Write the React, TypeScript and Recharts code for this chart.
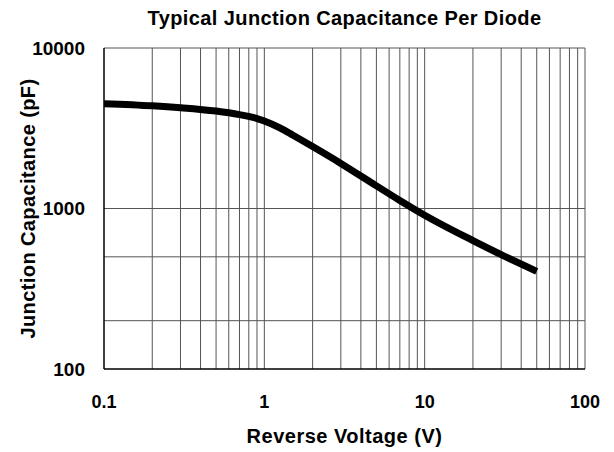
import React from 'react';
import {
  LineChart,
  Line,
  XAxis,
  YAxis,
  ReferenceLine,
  Label,
} from 'recharts';

// reverse voltage (V) and junction capacitance (pF)
const voltage = [0.1, 0.2, 0.3, 0.5, 0.7, 0.85, 1, 1.25, 1.5, 2, 3, 5, 7, 10, 20, 30, 50];
const capacitance = [4500, 4365, 4246, 4046, 3846, 3698, 3508, 3177, 2871, 2432, 1910, 1384, 1122, 908, 631, 516, 406];

const xTicks = [0.1, 1, 10, 100];
const yTicks = [100, 1000, 10000];
const xGrid = [0.2, 0.3, 0.4, 0.5, 0.6, 0.7, 0.8, 0.9, 1, 2, 3, 4, 5, 6, 7, 8, 9, 10, 20, 30, 40, 50, 60, 70, 80, 90, 100];
const yGrid = [200, 500, 1000, 10000];

const data = voltage.map((v, i) => ({ v, c: capacitance[i] }));

const FONT = '"Liberation Sans", Arial, sans-serif';

export default function App() {
  return (
    <div style={{ position: 'absolute', left: 0, top: 0, width: 614, height: 452, background: '#fff' }}>
      <div
        style={{
          position: 'absolute',
          top: 7,
          left: 104,
          width: 481,
          textAlign: 'center',
          fontFamily: FONT,
          fontWeight: 'bold',
          fontSize: 20,
          letterSpacing: 0.4,
          color: '#000',
        }}
      >
        Typical Junction Capacitance Per Diode
      </div>
      <LineChart width={614} height={452} data={data} margin={{ top: 48, right: 29, bottom: 0, left: 0 }}>
        {xGrid.map((x) => (
          <ReferenceLine key={'x' + x} x={x} stroke="#555" strokeWidth={1} />
        ))}
        {yGrid.map((y) => (
          <ReferenceLine key={'y' + y} y={y} stroke="#555" strokeWidth={1} />
        ))}
        <XAxis
          dataKey="v"
          type="number"
          scale="log"
          domain={[0.1, 100]}
          ticks={xTicks}
          allowDataOverflow
          height={83}
          tickLine={false}
          tickSize={0}
          tickMargin={26}
          axisLine={{ stroke: '#000', strokeWidth: 1.5 }}
          tick={{ fill: '#000', fontSize: 18, fontWeight: 'bold', fontFamily: FONT }}
        >
          <Label
            value="Reverse Voltage (V)"
            position="insideBottom"
            offset={9}
            style={{ fill: '#000', fontSize: 20, letterSpacing: 0.5, fontWeight: 'bold', fontFamily: FONT }}
          />
        </XAxis>
        <YAxis
          type="number"
          scale="log"
          domain={[100, 10000]}
          ticks={yTicks}
          allowDataOverflow
          width={104}
          tickLine={false}
          tickSize={0}
          tickMargin={19}
          axisLine={{ stroke: '#000', strokeWidth: 1.5 }}
          tick={{ fill: '#000', fontSize: 19, fontWeight: 'bold', fontFamily: FONT }}
        >
          <Label
            value="Junction Capacitance (pF)"
            angle={-90}
            position="insideLeft"
            offset={28}
            style={{
              fill: '#000',
              fontSize: 20,
              letterSpacing: 0.4,
              fontWeight: 'bold',
              fontFamily: FONT,
              textAnchor: 'middle',
            }}
          />
        </YAxis>
        <Line
          dataKey="c"
          type="monotone"
          stroke="#000"
          strokeWidth={7}
          dot={false}
          activeDot={false}
          isAnimationActive={false}
        />
      </LineChart>
    </div>
  );
}
